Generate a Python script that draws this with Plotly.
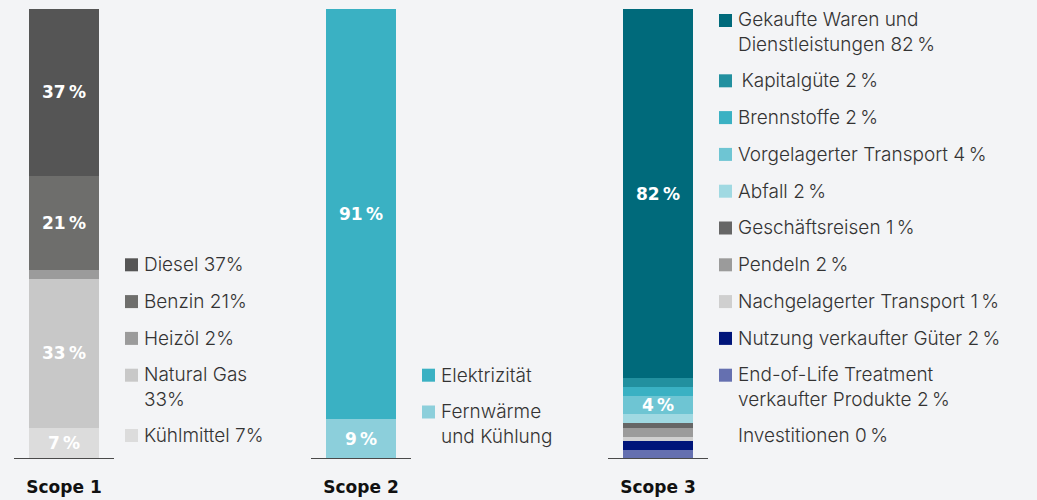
import plotly.graph_objects as go

# ---------------- data ----------------
scopes = ["Scope 1", "Scope 2", "Scope 3"]

scope1_labels = ["Diesel", "Benzin", "Heizöl", "Natural Gas", "Kühlmittel"]
scope1_values = [37, 21, 2, 33, 7]
scope1_legend = ["Diesel 37%", "Benzin 21%", "Heizöl 2%", "Natural Gas<br>33%", "Kühlmittel 7%"]
scope1_bar_text = ["37\u2009%", "21\u2009%", "", "33\u2009%", "7\u2009%"]

scope2_labels = ["Elektrizität", "Fernwärme und Kühlung"]
scope2_values = [91, 9]
scope2_legend = ["Elektrizität", "Fernwärme<br>und Kühlung"]
scope2_bar_text = ["91\u2009%", "9\u2009%"]

scope3_labels = ["Gekaufte Waren und Dienstleistungen", "Kapitalgüte", "Brennstoffe",
                 "Vorgelagerter Transport", "Abfall", "Geschäftsreisen", "Pendeln",
                 "Nachgelagerter Transport", "Nutzung verkaufter Güter",
                 "End-of-Life Treatment verkaufter Produkte", "Investitionen"]
scope3_values = [82, 2, 2, 4, 2, 1, 2, 1, 2, 2, 0]
scope3_legend = ["Gekaufte Waren und<br>Dienstleistungen 82\u2009%", "\u2009Kapitalgüte 2\u2009%",
                 "Brennstoffe 2\u2009%", "Vorgelagerter Transport 4\u2009%", "Abfall 2\u2009%",
                 "Geschäftsreisen 1\u2009%", "Pendeln 2\u2009%", "Nachgelagerter Transport 1\u2009%",
                 "Nutzung verkaufter Güter 2\u2009%", "End-of-Life Treatment<br>verkaufter Produkte 2\u2009%",
                 "Investitionen 0\u2009%"]
scope3_bar_text = ["82\u2009%", "", "", "4\u2009%", "", "", "", "", "", "", ""]

# ---------------- styles ----------------
scope1_colors = ["#555555", "#6e6e6c", "#9b9b9b", "#c8c8c8", "#dcdcdc"]
scope2_colors = ["#3ab1c3", "#8ccfdb"]
scope3_colors = ["#006a7b", "#22909f", "#3ab1c3", "#6ec5d3", "#a0d9e2", "#666666",
                 "#9b9b9b", "#cfcfcf", "#00157a", "#6570b0", "#f3f4f6"]

BG = "#f3f4f6"
TEXT = "#333333"
LIGHT_FONT = "Inter"
BOLD_FONT = "DejaVu Sans"

W_FIG, H_FIG = 1037, 500
PLOT_TOP, PLOT_BOT = 9, 459            # plot area in pixels
PLOT_H = PLOT_BOT - PLOT_TOP
PX_PER_UNIT = 297.0
X0_PX = 64.0
BAR_W = 70 / PX_PER_UNIT

groups = [
    (scope1_labels, scope1_values, scope1_colors, scope1_legend, scope1_bar_text),
    (scope2_labels, scope2_values, scope2_colors, scope2_legend, scope2_bar_text),
    (scope3_labels, scope3_values, scope3_colors, scope3_legend, scope3_bar_text),
]

fig = go.Figure()

for i, (labels, values, colors, legend, btext) in enumerate(groups):
    # stack bottom -> top
    for lab, v, c, t in reversed(list(zip(labels, values, colors, btext))):
        fig.add_trace(go.Bar(
            x=[i], y=[v], width=BAR_W, name=lab,
            marker=dict(color=c, line=dict(width=0)),
            text=[t], textposition="inside", insidetextanchor="middle",
            textangle=0, constraintext="none",
            textfont=dict(family=BOLD_FONT, size=17, color="white", weight=700),
            hoverinfo="skip", showlegend=False,
        ))

shapes = []
annotations = []


def py_to_paper(py):
    """pixel y -> paper y"""
    return (PLOT_BOT - py) / PLOT_H


LEG_BOTTOM = 435.5
PITCH = 36.8
LINE = 23.5

for i, (labels, values, colors, legend, btext) in enumerate(groups):
    # baseline under bar
    shapes.append(dict(type="line", xref="x", yref="y",
                       x0=i - 50 / PX_PER_UNIT, x1=i + 50 / PX_PER_UNIT, y0=0, y1=0,
                       line=dict(color="#4a4a4a", width=2)))
    # custom legend, bottom aligned
    cur = LEG_BOTTOM
    items = []
    for txt, v, c in reversed(list(zip(legend, values, colors))):
        n = txt.count("<br>") + 1
        first = cur - (n - 1) * LINE
        items.append((txt, v, c, first, n))
        cur = first - PITCH
    for txt, v, c, first, n in items:
        center = first + (n - 1) * LINE / 2
        annotations.append(dict(
            xref="x", yref="paper", x=i, xshift=78, xanchor="left",
            y=py_to_paper(center), yanchor="middle", showarrow=False, align="left",
            text=txt, font=dict(family=LIGHT_FONT, size=19, color=TEXT, weight=300),
        ))
        if v > 0:
            shapes.append(dict(type="rect", xref="x", yref="paper",
                               xsizemode="pixel", ysizemode="pixel",
                               xanchor=i, x0=61, x1=74,
                               yanchor=py_to_paper(first), y0=-6.5, y1=6.5,
                               fillcolor=c, line=dict(width=0)))

fig.update_layout(
    width=W_FIG, height=H_FIG,
    margin=dict(l=0, r=0, t=PLOT_TOP, b=H_FIG - PLOT_BOT, pad=0),
    paper_bgcolor=BG, plot_bgcolor=BG,
    barmode="stack", bargap=0,
    showlegend=False, hovermode=False,
    shapes=shapes, annotations=annotations,
    xaxis=dict(range=[-X0_PX / PX_PER_UNIT, (W_FIG - X0_PX) / PX_PER_UNIT],
               tickvals=[0, 1, 2], ticktext=scopes, showgrid=False, zeroline=False,
               showline=False, ticks="", ticklabelstandoff=16, fixedrange=True,
               tickfont=dict(family=BOLD_FONT, size=17, color="#111111", weight=700)),
    yaxis=dict(range=[0, 100], visible=False, fixedrange=True),
)

page_css = ("document.body.style.margin='0px';"
            "document.body.style.overflow='hidden';"
            "document.body.style.background='" + BG + "';")
fig.write_html("out.html", post_script=page_css, config={"displayModeBar": False, "staticPlot": True})
